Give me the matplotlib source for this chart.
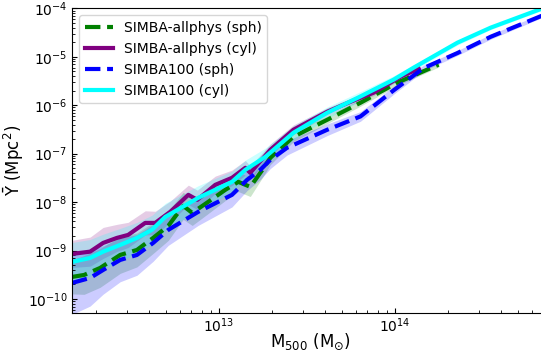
import numpy as np
import matplotlib
matplotlib.use('Agg')
import matplotlib.pyplot as plt

# log10(M500 / Msun) and log10(Ybar / Mpc^2)
allphys_sph_logm = [12.167, 12.236, 12.327, 12.441, 12.536, 12.628, 12.714, 12.799, 12.850, 12.941,
                    13.038, 13.112, 13.180, 13.249, 13.294, 13.425, 13.617, 13.806, 14.015, 14.250]
allphys_sph_logy = [-9.543, -9.502, -9.357, -9.089, -8.986, -8.738, -8.490, -8.076, -8.221, -7.994,
                    -7.746, -7.581, -7.684, -7.333, -7.085, -6.651, -6.300, -5.949, -5.535, -5.163]
allphys_sph_sig = [0.35, 0.40, 0.40, 0.38, 0.35, 0.32, 0.30, 0.28, 0.26, 0.24,
                   0.22, 0.20, 0.20, 0.16, 0.14, 0.10, 0.08, 0.07, 0.06, 0.05]

allphys_cyl_logm = [12.167, 12.270, 12.344, 12.422, 12.486, 12.583, 12.640, 12.725, 12.828, 12.879, 12.981,
                    13.076, 13.152, 13.180, 13.294, 13.425, 13.617, 13.750, 13.880, 14.034, 14.137]
allphys_cyl_logy = [-9.068, -9.021, -8.841, -8.738, -8.676, -8.428, -8.428, -8.200, -7.849, -7.952, -7.643,
                    -7.498, -7.291, -7.395, -6.919, -6.506, -6.134, -5.928, -5.742, -5.411, -5.246]
allphys_cyl_sig = [0.28, 0.30, 0.32, 0.28, 0.26, 0.25, 0.24, 0.22, 0.20, 0.20, 0.18,
                   0.16, 0.15, 0.14, 0.12, 0.10, 0.08, 0.07, 0.06, 0.05, 0.05]

s100_sph_logm = [12.167, 12.270, 12.344, 12.441, 12.536, 12.628, 12.714, 12.884, 13.076, 13.162,
                 13.237, 13.294, 13.389, 13.617, 13.806, 13.996, 14.165, 14.357, 14.546, 14.837]
s100_sph_logy = [-9.667, -9.564, -9.399, -9.192, -9.089, -8.841, -8.572, -8.200, -7.849, -7.539,
                 -7.333, -7.126, -6.878, -6.506, -6.231, -5.688, -5.233, -4.923, -4.587, -4.153]
s100_sph_sig = [0.65, 0.58, 0.50, 0.45, 0.42, 0.38, 0.32, 0.28, 0.25, 0.22,
                0.20, 0.18, 0.15, 0.12, 0.10, 0.08, 0.06, 0.05, 0.05, 0.04]

s100_cyl_logm = [12.167, 12.270, 12.344, 12.441, 12.536, 12.621, 12.697, 12.884, 13.076, 13.152,
                 13.266, 13.425, 13.617, 13.806, 13.994, 14.108, 14.357, 14.546, 14.837]
s100_cyl_logy = [-9.233, -9.151, -9.021, -8.882, -8.738, -8.572, -8.304, -7.911, -7.581, -7.333,
                 -7.064, -6.568, -6.155, -5.818, -5.473, -5.225, -4.709, -4.399, -4.006]
s100_cyl_sig = [0.40, 0.38, 0.36, 0.34, 0.32, 0.30, 0.28, 0.25, 0.22, 0.20,
                0.18, 0.14, 0.12, 0.10, 0.08, 0.06, 0.05, 0.04, 0.04]

series = [
    ('SIMBA-allphys (sph)', allphys_sph_logm, allphys_sph_logy, allphys_sph_sig, 'green', '--'),
    ('SIMBA-allphys (cyl)', allphys_cyl_logm, allphys_cyl_logy, allphys_cyl_sig, 'purple', '-'),
    ('SIMBA100 (sph)', s100_sph_logm, s100_sph_logy, s100_sph_sig, 'blue', '--'),
    ('SIMBA100 (cyl)', s100_cyl_logm, s100_cyl_logy, s100_cyl_sig, 'cyan', '-'),
]

fig = plt.figure(figsize=(5.41, 3.58), dpi=100)
ax = fig.add_axes([0.1337, 0.1249, 0.869, 0.8519])

for label, logm, logy, sig, color, ls in series:
    m = 10 ** np.array(logm)
    y = 10 ** np.array(logy)
    s = np.array(sig)
    # shaded scatter band around each median
    ax.fill_between(m, y / 10 ** s, y * 10 ** s, color=color, alpha=0.2, linewidth=0)
    ax.plot(m, y, color=color, ls=ls, lw=3, label=label)

ax.set_xscale('log')
ax.set_yscale('log')
ax.set_xlim(10 ** 12.169, 10 ** 14.84)
ax.set_ylim(10 ** -10.293, 1e-4)
ax.tick_params(which='both', direction='in', labelsize=10)
ax.tick_params(axis='x', pad=2)
ax.set_xlabel(r'M$_{500}$ (M$_{\odot}$)', fontsize=12)
ax.set_ylabel(r'$\bar{\mathrm{Y}}$ (Mpc$^2$)', fontsize=12)
ax.xaxis.set_label_coords(0.506, -0.062)
ax.yaxis.set_label_coords(-0.098, 0.5)
ax.legend(loc='upper left', fontsize=10)

fig.savefig('out.png', dpi=100)
